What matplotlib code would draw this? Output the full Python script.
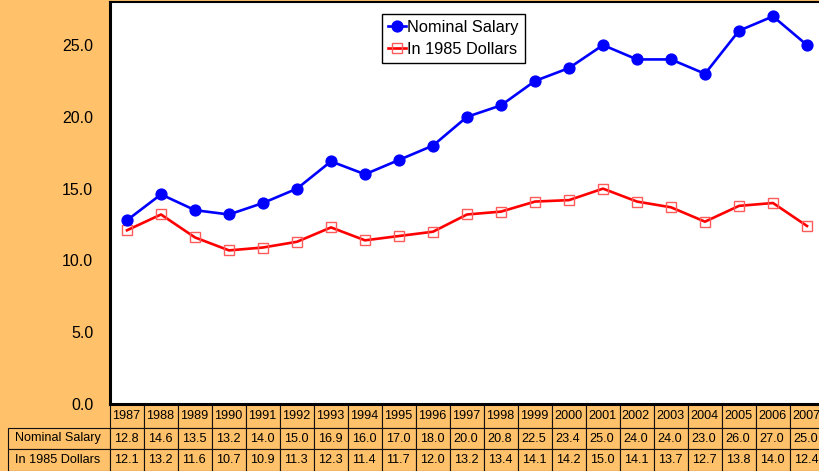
import matplotlib.pyplot as plt
from matplotlib.patches import Rectangle

years = [str(y) for y in range(1987, 2008)]
nominal = [12.8, 14.6, 13.5, 13.2, 14.0, 15.0, 16.9, 16.0, 17.0, 18.0, 20.0,
           20.8, 22.5, 23.4, 25.0, 24.0, 24.0, 23.0, 26.0, 27.0, 25.0]
real85 = [12.1, 13.2, 11.6, 10.7, 10.9, 11.3, 12.3, 11.4, 11.7, 12.0, 13.2,
          13.4, 14.1, 14.2, 15.0, 14.1, 13.7, 12.7, 13.8, 14.0, 12.4]
row_names = ["Nominal Salary", "In 1985 Dollars"]

orange = '#FFC169'
plt.rcParams['font.family'] = ['Liberation Sans', 'DejaVu Sans']

fig = plt.figure(figsize=(8.2, 4.71), dpi=100, facecolor=orange)
W, H = 820, 471
AXH = 402
ax = fig.add_axes([110 / W, 1 - 404 / H, 714 / W, AXH / H])
ax.set_facecolor('white')

x = list(range(len(years)))
ax.plot(x, nominal, color='#0000FF', lw=1.9, marker='o', ms=7.8,
        mfc='#0000FF', mec='#0000FF', label='Nominal Salary', zorder=3)
ax.plot(x, real85, color='#FF0000', lw=1.9, marker='s', ms=7.5,
        mfc='none', mec='#FF5A5A', mew=1.0, label='In 1985 Dollars', zorder=2)

ax.set_xlim(-0.5, len(years) - 0.5)
ax.set_ylim(0, 28)
ax.set_yticks([0, 5, 10, 15, 20, 25])
ax.set_yticklabels(['0.0', '5.0', '10.0', '15.0', '20.0', '25.0'])
ax.set_xticks([])
ax.tick_params(axis='y', length=0, pad=12, labelsize=11.5)
for s in ['left', 'bottom']:
    ax.spines[s].set_linewidth(2.2)
    ax.spines[s].set_zorder(5)
ax.spines['top'].set_linewidth(1.5)
ax.spines['right'].set_visible(False)

leg = ax.legend(loc='upper left', bbox_to_anchor=(382 / W, 1 - 14 / H),
                bbox_transform=fig.transFigure, fontsize=11.8, frameon=True,
                fancybox=False, edgecolor='black', framealpha=1,
                handlelength=1.1, handletextpad=0.1, borderpad=0.35,
                labelspacing=0.45, borderaxespad=0)
leg.get_frame().set_linewidth(1.0)

# data table under the plot: x in data units, y in axes units
tr = ax.get_xaxis_transform()
row_bounds = [(0, -24 / AXH), (-24 / AXH, -45 / AXH), (-45 / AXH, -67 / AXH)]
rows = [years, ["%.1f" % v for v in nominal], ["%.1f" % v for v in real85]]
labels = [None] + row_names


def cell(x0, w, top, bot, txt):
    ax.add_patch(Rectangle((x0, bot), w, top - bot, transform=tr, clip_on=False,
                           fc=orange, ec='#111111', lw=0.8, zorder=1))
    ax.text(x0 + w / 2 - 0.03, (top + bot) / 2, txt, transform=tr, ha='center',
            va='center', fontsize=9.1, clip_on=False)


for r, (top, bot) in enumerate(row_bounds):
    if labels[r] is not None:
        cell(-3.5, 3.0, top, bot, labels[r])
    for i, txt in enumerate(rows[r]):
        cell(i - 0.5, 1.0, top, bot, txt)

fig.savefig('out.png', dpi=100, facecolor=orange)
